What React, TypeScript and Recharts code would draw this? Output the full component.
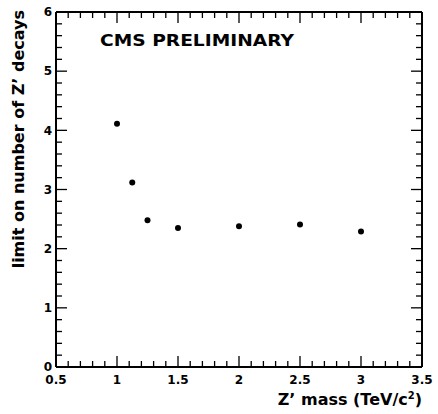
import { ScatterChart, Scatter, XAxis, YAxis } from "recharts";

const massTeV = [1, 1.125, 1.25, 1.5, 2, 2.5, 3];
const limitDecays = [4.11, 3.12, 2.48, 2.35, 2.38, 2.41, 2.29];

const xMajorTicks = [0.5, 1, 1.5, 2, 2.5, 3, 3.5];
const yMajorTicks = [0, 1, 2, 3, 4, 5, 6];

// minor ticks: every 0.1 on x, every 0.2 on y
const xAllTicks: number[] = [];
for (let i = 5; i <= 35; i++) xAllTicks.push(i / 10);
const yAllTicks: number[] = [];
for (let i = 0; i <= 30; i++) yAllTicks.push(i / 5);

const data = massTeV.map((m, i) => ({ mass: m, limit: limitDecays[i] }));

const FONT = "'DejaVu Sans', sans-serif";
const MAJOR = 11;
const MINOR = 6;

const isMajor = (v: number, majors: number[]) =>
  majors.some((m) => Math.abs(m - v) < 1e-6);

const fmt = (v: number) => String(Math.round(v * 10) / 10);

const BottomTick = (props: any) => {
  const { x, y, payload } = props;
  const major = isMajor(payload.value, xMajorTicks);
  return (
    <g>
      <line x1={x} y1={y} x2={x} y2={y - (major ? MAJOR : MINOR)} stroke="#000" strokeWidth={1.3} />
      {major && (
        <text x={x} y={y + 17} textAnchor="middle" fontFamily={FONT} fontWeight="bold" fontSize={12} fill="#000">
          {fmt(payload.value)}
        </text>
      )}
    </g>
  );
};

const TopTick = (props: any) => {
  const { x, y, payload } = props;
  const major = isMajor(payload.value, xMajorTicks);
  return <line x1={x} y1={y} x2={x} y2={y + (major ? MAJOR : MINOR)} stroke="#000" strokeWidth={1.3} />;
};

const LeftTick = (props: any) => {
  const { x, y, payload } = props;
  const major = isMajor(payload.value, yMajorTicks);
  return (
    <g>
      <line x1={x} y1={y} x2={x + (major ? MAJOR : MINOR)} y2={y} stroke="#000" strokeWidth={1.3} />
      {major && (
        <text x={x - 4} y={y + 4.3} textAnchor="end" fontFamily={FONT} fontWeight="bold" fontSize={12} fill="#000">
          {fmt(payload.value)}
        </text>
      )}
    </g>
  );
};

const RightTick = (props: any) => {
  const { x, y, payload } = props;
  const major = isMajor(payload.value, yMajorTicks);
  return <line x1={x} y1={y} x2={x - (major ? MAJOR : MINOR)} y2={y} stroke="#000" strokeWidth={1.3} />;
};

const Dot = (props: any) => <circle cx={props.cx} cy={props.cy} r={3} fill="#000" />;
const NoDot = () => <g />;

const axisLine = { stroke: "#000", strokeWidth: 2 };

export default function App() {
  return (
    <div style={{ position: "absolute", left: 0, top: 0, background: "#fff" }}>
      <ScatterChart width={438} height={414} margin={{ top: 11, right: 15, bottom: 0, left: 0 }}>
        <XAxis
          xAxisId="bottom"
          dataKey="mass"
          type="number"
          domain={[0.5, 3.5]}
          ticks={xAllTicks}
          interval={0}
          height={47}
          tickSize={0}
          tickMargin={0}
          tickLine={false}
          axisLine={axisLine}
          tick={<BottomTick />}
          allowDataOverflow
        />
        <XAxis
          xAxisId="top"
          orientation="top"
          dataKey="mass"
          type="number"
          domain={[0.5, 3.5]}
          ticks={xAllTicks}
          interval={0}
          height={1}
          tickSize={0}
          tickMargin={0}
          tickLine={false}
          axisLine={axisLine}
          tick={<TopTick />}
          allowDataOverflow
        />
        <YAxis
          yAxisId="left"
          dataKey="limit"
          type="number"
          domain={[0, 6]}
          ticks={yAllTicks}
          interval={0}
          width={56}
          tickSize={0}
          tickMargin={0}
          tickLine={false}
          axisLine={axisLine}
          tick={<LeftTick />}
          allowDataOverflow
        />
        <YAxis
          yAxisId="right"
          orientation="right"
          dataKey="limit"
          type="number"
          domain={[0, 6]}
          ticks={yAllTicks}
          interval={0}
          width={1}
          tickSize={0}
          tickMargin={0}
          tickLine={false}
          axisLine={axisLine}
          tick={<RightTick />}
          allowDataOverflow
        />
        {/* invisible series so the top/right frame axes get drawn */}
        <Scatter
          data={data}
          xAxisId="top"
          yAxisId="right"
          shape={<NoDot />}
          isAnimationActive={false}
        />
        <Scatter
          data={data}
          xAxisId="bottom"
          yAxisId="left"
          shape={<Dot />}
          isAnimationActive={false}
        />
        <text
          x={100}
          y={46}
          fontFamily={FONT}
          fontWeight="bold"
          fontSize={15.5}
          textLength={194}
          lengthAdjust="spacingAndGlyphs"
          fill="#000"
        >
          CMS PRELIMINARY
        </text>
        <text x={422} y={405} textAnchor="end" fontFamily={FONT} fontWeight="bold" fontSize={16} fill="#000">
          Z’ mass (TeV/c<tspan dy={-6} fontSize={10}>2</tspan>
          <tspan dy={6}>)</tspan>
        </text>
        <text
          x={24}
          y={10}
          transform="rotate(-90 24 10)"
          textAnchor="end"
          fontFamily={FONT}
          fontWeight="bold"
          fontSize={16}
          fill="#000"
        >
          limit on number of Z’ decays
        </text>
      </ScatterChart>
    </div>
  );
}
